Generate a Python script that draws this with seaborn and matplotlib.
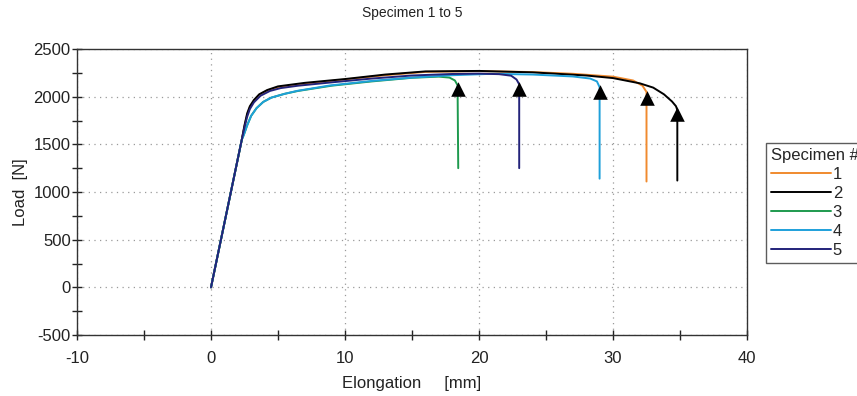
import numpy as np
import pandas as pd
import matplotlib
matplotlib.use("Agg")
import matplotlib.pyplot as plt
import seaborn as sns
from matplotlib.ticker import MultipleLocator

# ---- data ----
specimens = ["1", "2", "3", "4", "5"]
colors = ["#F08A2E", "#000000", "#1E9A4E", "#1EA0DA", "#23237A"]

x1 = [0, 2.3, 2.5, 2.7, 2.9, 3.2, 3.6, 4.2, 5.0, 7, 10, 13, 16, 20, 24, 27, 30, 31.5, 32.2, 32.5, 32.5]
y1 = [0, 1550, 1690, 1810, 1890, 1955, 2020, 2065, 2100, 2135, 2180, 2225, 2260, 2268, 2258, 2240, 2210, 2170, 2115, 2050, 1110]

x2 = [0, 2.3, 2.5, 2.7, 2.9, 3.2, 3.6, 4.2, 5.0, 7, 10, 13, 16, 20, 24, 28, 30, 32, 33, 33.8, 34.4, 34.7, 34.8, 34.8]
y2 = [0, 1550, 1700, 1825, 1900, 1965, 2025, 2070, 2108, 2145, 2185, 2232, 2265, 2270, 2255, 2222, 2195, 2140, 2095, 2025, 1950, 1900, 1860, 1120]

x3 = [0, 2.3, 2.45, 2.7, 3.0, 3.4, 3.9, 4.5, 5.5, 6.5, 9, 12, 15, 17, 17.8, 18.2, 18.4, 18.45]
y3 = [0, 1550, 1600, 1700, 1800, 1880, 1945, 1990, 2030, 2060, 2115, 2160, 2198, 2210, 2200, 2170, 2120, 1250]

x4 = [0, 2.3, 2.45, 2.7, 3.0, 3.4, 3.9, 4.5, 5.5, 6.4, 8.9, 12, 15, 18, 21, 24, 27, 28.3, 28.8, 29.0, 29.0]
y4 = [0, 1550, 1600, 1700, 1800, 1880, 1945, 1990, 2030, 2060, 2118, 2165, 2200, 2225, 2240, 2232, 2212, 2190, 2160, 2100, 1140]

x5 = [0, 2.3, 2.5, 2.7, 2.9, 3.2, 3.7, 4.4, 5.2, 6.5, 9, 12, 15, 18, 20, 21.5, 22.4, 22.8, 23.0, 23.0]
y5 = [0, 1550, 1680, 1790, 1870, 1940, 2010, 2060, 2090, 2115, 2150, 2190, 2222, 2238, 2242, 2236, 2220, 2180, 2130, 1250]

# break markers (black arrow heads)
break_x = [32.5, 34.8, 18.45, 29.0, 23.0]
break_y = [1988, 1815, 2083, 2050, 2085]

frames = []
for name, xs, ys in zip(specimens, [x1, x2, x3, x4, x5], [y1, y2, y3, y4, y5]):
    frames.append(pd.DataFrame({"Elongation": xs, "Load": ys, "Specimen #": name}))
df = pd.concat(frames, ignore_index=True)
brk = pd.DataFrame({"x": break_x, "y": break_y})

# ---- plot ----
sns.set_theme(style="white")
plt.rcParams["font.family"] = ["Liberation Sans", "DejaVu Sans"]
plt.rcParams["axes.unicode_minus"] = False

fig = plt.figure(figsize=(8.57, 3.96), dpi=100)
ax = fig.add_axes([77/857, 1-335/396, (747-77)/857, (335-49)/396])

for name, c in zip(specimens, colors):
    sub = df[df["Specimen #"] == name]
    sns.lineplot(data=sub, x="Elongation", y="Load", sort=False, estimator=None,
                 color=c, linewidth=1.4, ax=ax, label=name)

sns.scatterplot(data=brk, x="x", y="y", marker="^", s=110, color="black",
                edgecolor="black", linewidth=0, ax=ax, zorder=5, legend=False)

ax.set_xlim(-10, 40)
ax.set_ylim(-500, 2500)
ax.xaxis.set_major_locator(MultipleLocator(10))
ax.xaxis.set_minor_locator(MultipleLocator(5))
ax.yaxis.set_major_locator(MultipleLocator(500))
ax.yaxis.set_minor_locator(MultipleLocator(250))

ax.grid(True, which="major", linestyle=(0, (1, 3.5)), color="#9a9a9a", linewidth=0.9)
ax.tick_params(which="both", direction="inout", color="#222222", width=1.0)
ax.tick_params(which="major", length=7, labelsize=12, colors="#222222")
ax.tick_params(which="minor", length=7)
ax.tick_params(axis="x", which="major", pad=8)
ax.tick_params(axis="y", which="major", pad=1)
ax.tick_params(axis="both", which="both", bottom=True, left=True)
for s in ax.spines.values():
    s.set_color("#333333")
    s.set_linewidth(1.0)

ax.set_xlabel("Elongation     [mm]", fontsize=12, color="#222222", labelpad=7)
ax.set_ylabel("Load  [N]", fontsize=12, color="#222222", labelpad=4)
fig.text(412/857, 1-13/396, "Specimen 1 to 5", ha="center", va="center",
         fontsize=10, color="#222222")

leg = ax.legend(title="Specimen #", loc="upper left",
                bbox_to_anchor=(766/857, 1-143/396), bbox_transform=fig.transFigure,
                fontsize=12, title_fontsize=12, frameon=True, fancybox=False,
                handlelength=3.6, handletextpad=0.1, labelspacing=0.24,
                borderpad=0.3, borderaxespad=0)
leg.get_frame().set_edgecolor("#333333")
leg.get_frame().set_linewidth(1.0)
leg._legend_box.align = "left"
for h in leg.legend_handles:
    h.set_linewidth(1.4)

fig.savefig("out.png", dpi=100)
